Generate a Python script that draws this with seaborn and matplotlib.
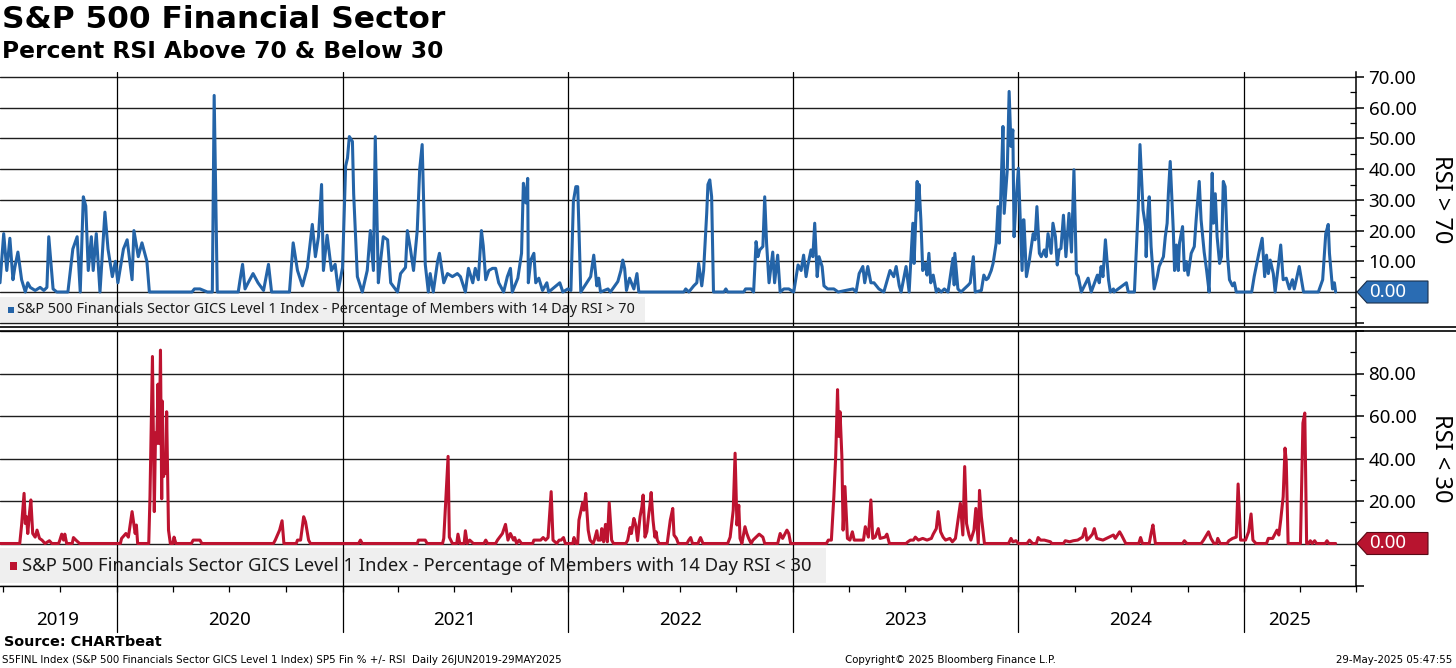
import numpy as np
import pandas as pd
import matplotlib
matplotlib.use("Agg")
import matplotlib.pyplot as plt
import matplotlib.dates as mdates
import matplotlib.transforms as mtransforms
from matplotlib.patches import Polygon, Rectangle
from matplotlib.lines import Line2D
import seaborn as sns

# ---------------- data ----------------
START = "2019-06-26"
END = "2025-05-29"

# % of members with 14-day RSI > 70 (days since 26-Jun-2019, value)
above70_days = [
    0, 6, 11, 16, 21, 24, 29, 35, 41, 45,
    49, 57, 65, 71, 76, 79, 86, 92, 110, 118,
    125, 130, 135, 139, 143, 148, 151, 156, 162, 170,
    175, 182, 187, 191, 200, 206, 214, 217, 224, 230,
    238, 242, 311, 315, 324, 336, 344, 347, 352, 386,
    389, 393, 397, 402, 410, 418, 427, 435, 440, 469,
    475, 482, 490, 498, 506, 511, 516, 521, 524, 530,
    537, 543, 548, 555, 560, 563, 566, 571, 573, 579,
    587, 595, 600, 605, 608, 613, 616, 621, 628, 633,
    644, 649, 657, 660, 665, 670, 676, 680, 684, 689,
    694, 697, 702, 709, 712, 719, 725, 733, 741, 746,
    754, 759, 766, 770, 775, 780, 783, 787, 792, 798,
    803, 808, 816, 822, 827, 830, 839, 845, 848, 852,
    855, 856, 860, 865, 868, 873, 879, 886, 889, 907,
    912, 920, 925, 929, 933, 936, 941, 957, 962, 967,
    970, 973, 985, 989, 1001, 1006, 1009, 1012, 1015, 1020,
    1027, 1032, 1035, 1108, 1111, 1116, 1124, 1129, 1132, 1137,
    1140, 1145, 1147, 1150, 1153, 1156, 1173, 1176, 1179, 1205,
    1208, 1217, 1221, 1225, 1228, 1231, 1236, 1239, 1242, 1246,
    1252, 1255, 1260, 1264, 1270, 1278, 1286, 1293, 1298, 1302,
    1306, 1309, 1314, 1317, 1320, 1324, 1327, 1332, 1335, 1341,
    1351, 1358, 1382, 1387, 1392, 1398, 1401, 1406, 1411, 1416,
    1424, 1432, 1442, 1448, 1452, 1457, 1460, 1468, 1473, 1479,
    1481, 1486, 1487, 1489, 1492, 1495, 1499, 1502, 1505, 1508,
    1512, 1517, 1520, 1525, 1530, 1536, 1544, 1546, 1547, 1552,
    1557, 1569, 1572, 1577, 1580, 1590, 1594, 1598, 1601, 1606,
    1609, 1614, 1617, 1619, 1622, 1625, 1627, 1632, 1635, 1638,
    1641, 1643, 1646, 1650, 1653, 1656, 1658, 1659, 1663, 1667,
    1674, 1677, 1680, 1684, 1687, 1692, 1695, 1698, 1703, 1706,
    1710, 1713, 1716, 1719, 1723, 1727, 1732, 1736, 1740, 1744,
    1747, 1752, 1763, 1768, 1778, 1781, 1784, 1787, 1791, 1796,
    1799, 1804, 1805, 1825, 1828, 1838, 1844, 1847, 1852, 1856,
    1857, 1860, 1862, 1865, 1870, 1875, 1878, 1885, 1888, 1891,
    1893, 1896, 1901, 1903, 1906, 1909, 1911, 1916, 1919, 1922,
    1925, 1930, 1935, 1938, 1943, 1946, 1951, 1955, 1959, 1964,
    1966, 1969, 1972, 1976, 1979, 1982, 1985, 1989, 1992, 1997,
    2000, 2003, 2028, 2032, 2037, 2040, 2045, 2049, 2052, 2055,
    2058, 2063, 2066, 2071, 2075, 2079, 2084, 2089, 2094, 2097,
    2105, 2112, 2136, 2143, 2148, 2152, 2154, 2159, 2162, 2164,
]
above70_values = [
    3, 19, 7, 17.5, 4, 8, 13, 4, 0, 3,
    1.5, 0.5, 1.5, 0.5, 1.5, 18, 1, 0, 0, 14,
    18, 0, 31, 28, 7, 18, 7, 19, 0, 26,
    14, 5, 10, 3, 14, 17, 4, 20, 11.5, 16,
    10, 0, 0, 1, 1, 0, 0, 64, 0, 0,
    4, 9, 1, 3, 6, 3, 0.5, 9, 0, 0,
    16, 7, 2, 8, 22, 11.5, 18, 35, 7, 18.5,
    7, 9, 0.5, 8, 41, 43.6, 50.6, 49, 32, 5,
    0, 7, 20, 7, 50.6, 3, 9, 18, 17, 3,
    0, 6, 8, 20, 14, 7, 20, 40, 48, 9,
    0, 6, 0, 10, 12.6, 3, 6, 5, 6, 5,
    0, 7.7, 3, 7.7, 4, 20, 15, 4, 7, 7.7,
    7.7, 3, 0, 5, 7.7, 0, 4.5, 12.6, 35.4, 29,
    37, 3, 10.4, 12.6, 3, 4.5, 0.5, 3, 0, 3,
    0, 1, 0.5, 29.5, 34.3, 34.3, 0, 5, 12, 2,
    4.5, 0, 1, 0, 3.4, 7, 10.4, 7.7, 0.5, 4.5,
    1, 6, 0, 0, 1, 0, 2, 3, 9.3, 2,
    7, 25.6, 35, 36.5, 31, 0, 0, 1, 0, 0,
    1, 1, 0, 16.4, 11.5, 13.7, 14.8, 31, 15.9, 3,
    13, 3, 12, 0, 1, 1, 0, 8.8, 7, 12,
    5, 8.8, 13.7, 11.5, 22.4, 5, 11.5, 8.3, 2, 1,
    1, 0, 1, 0, 6, 8.3, 3, 8.3, 3, 3,
    1, 0, 7, 5, 8.3, 2, 0, 8.3, 0, 22.4,
    9.3, 36, 26.7, 35, 23.5, 7, 9.3, 5.5, 12.6, 3,
    5.5, 0, 1, 0, 1, 0, 11, 2.3, 12.6, 1,
    0, 2.3, 3, 11.5, 0, 0.5, 5.5, 4, 4.5, 7,
    9.3, 15.9, 27.8, 15.9, 34.3, 53.9, 25.6, 39.8, 65.3, 47.4,
    52.8, 18, 29, 40.3, 23.5, 7, 23.5, 23.5, 5, 9.3,
    19, 17, 27.8, 12.6, 11.5, 13.7, 11.5, 19, 12.6, 22.4,
    18, 8.8, 13.7, 14.2, 25, 11.5, 25.6, 13, 39.8, 6,
    5, 0, 4.5, 0, 5.5, 3, 8.3, 5, 17, 4,
    0, 1, 0, 3, 0, 0, 26.7, 48, 26.7, 21.3,
    11.5, 26.7, 31, 14.8, 1, 5, 8.3, 11.5, 18, 22.4,
    32, 42.5, 20, 7, 15.3, 7, 15.9, 21.3, 7, 9.9,
    5.5, 12.6, 14.8, 23.5, 36, 23.5, 13, 7, 0, 38.7,
    22.4, 32, 18, 9.3, 11.5, 36, 34.3, 11.5, 4, 2,
    3, 0, 0, 5, 9.9, 13, 17.5, 5, 12, 6,
    10.4, 6, 0, 8.3, 15.3, 4, 4.5, 1, 4, 1,
    8.3, 0, 0, 4, 19, 22, 12.6, 1, 3, 0,
]

# % of members with 14-day RSI < 30 (days since 26-Jun-2019, value)
below30_days = [
    0, 32, 35, 39, 41, 43, 45, 48, 50, 53,
    57, 60, 64, 68, 73, 80, 84, 95, 97, 100,
    103, 105, 108, 117, 119, 123, 129, 195, 197, 204,
    208, 214, 216, 219, 221, 223, 241, 243, 247, 250,
    252, 254, 256, 258, 260, 262, 263, 265, 267, 269,
    270, 273, 276, 280, 282, 285, 310, 313, 324, 327,
    443, 446, 453, 457, 460, 480, 482, 487, 492, 495,
    500, 503, 581, 584, 587, 676, 678, 689, 692, 717,
    719, 726, 728, 733, 740, 742, 745, 752, 754, 757,
    761, 767, 784, 787, 790, 803, 806, 814, 819, 823,
    827, 832, 834, 837, 841, 845, 863, 865, 876, 880,
    884, 888, 893, 896, 902, 906, 909, 913, 916, 928,
    930, 933, 936, 938, 944, 946, 949, 953, 956, 961,
    963, 967, 969, 973, 975, 978, 981, 984, 987, 991,
    994, 1014, 1017, 1021, 1023, 1027, 1030, 1033, 1037, 1040,
    1042, 1045, 1048, 1051, 1053, 1055, 1058, 1061, 1063, 1065,
    1068, 1081, 1086, 1090, 1092, 1096, 1099, 1113, 1116, 1119,
    1122, 1131, 1133, 1135, 1139, 1179, 1183, 1188, 1191, 1194,
    1197, 1199, 1202, 1207, 1210, 1213, 1217, 1220, 1230, 1236,
    1239, 1260, 1264, 1268, 1275, 1278, 1281, 1339, 1342, 1347,
    1351, 1354, 1357, 1359, 1361, 1364, 1366, 1369, 1373, 1377,
    1381, 1384, 1399, 1402, 1407, 1411, 1414, 1418, 1423, 1426,
    1434, 1437, 1441, 1468, 1471, 1475, 1480, 1483, 1488, 1495,
    1502, 1509, 1512, 1517, 1520, 1524, 1528, 1532, 1539, 1543,
    1548, 1553, 1556, 1560, 1563, 1566, 1570, 1573, 1578, 1581,
    1585, 1587, 1590, 1595, 1634, 1638, 1641, 1646, 1650, 1664,
    1668, 1673, 1679, 1682, 1686, 1692, 1702, 1704, 1723, 1726,
    1733, 1739, 1746, 1754, 1758, 1761, 1766, 1770, 1773, 1777,
    1787, 1804, 1807, 1814, 1817, 1824, 1845, 1848, 1851, 1862,
    1865, 1868, 1872, 1916, 1919, 1923, 1946, 1950, 1958, 1962,
    1967, 1971, 1973, 1977, 1988, 1991, 1997, 2003, 2006, 2010,
    2018, 2023, 2027, 2030, 2035, 2052, 2055, 2062, 2069, 2072,
    2075, 2079, 2082, 2084, 2087, 2107, 2111, 2114, 2117, 2120,
    2123, 2126, 2130, 2133, 2147, 2150, 2153, 2164,
]
below30_values = [
    0, 0, 8.7, 23.6, 9.4, 12.6, 4.7, 15, 20.5, 4.7,
    3, 6.3, 2.4, 1.6, 0, 1.3, 0, 0, 1.6, 4.4,
    1.6, 4.4, 0, 0, 2.8, 1.6, 0, 0, 2.4, 4.7,
    3, 15, 11, 4.7, 8.7, 0, 0, 22, 88, 15,
    52, 47, 75, 47, 91, 21, 67, 31.5, 37.8, 33,
    62, 6.3, 0, 0, 3, 0, 0, 1.6, 1.6, 0,
    0, 1.6, 6.3, 10.7, 0, 0, 1.6, 1.6, 12.6, 10.2,
    1.6, 0, 0, 1.6, 0, 0, 1.6, 1.6, 0, 0,
    2.4, 41, 3, 0, 0, 4.4, 0, 0, 6, 0,
    1.6, 0, 0, 1.6, 0, 0, 1.6, 4.7, 9, 1.6,
    4.7, 1.6, 2.8, 0, 1.6, 0, 0, 1.6, 1.6, 2.8,
    1.6, 2.8, 24.4, 1.6, 0, 1.6, 1.6, 2.8, 0, 0,
    2.8, 0, 0, 11, 19.2, 15.7, 23.6, 6.3, 1.6, 0,
    1.6, 6, 1.6, 1.6, 7, 0.8, 9, 0.8, 19.2, 1.6,
    0, 0, 1.6, 7.5, 4.7, 11.8, 8.7, 1.3, 12.6, 17.3,
    22.8, 3, 5.5, 13.4, 18, 24, 11, 3, 5.5, 1.6,
    0, 0, 11, 16.5, 4, 2.4, 0, 0, 1.6, 2.8,
    0, 0, 1.6, 2.8, 0, 0, 3, 15.7, 42.5, 8.7,
    18, 2.4, 0, 7.9, 4.7, 2.4, 0, 1.6, 4.4, 3,
    0, 0, 4.7, 2.4, 6.3, 4.7, 0, 0, 1.6, 1.6,
    22, 41, 72.4, 50.4, 62, 41, 6.3, 26.8, 2.4, 1.6,
    5.5, 1.6, 1.6, 7.9, 3, 20.5, 2.4, 3, 7, 2.4,
    3, 4.4, 0, 0, 0.8, 1.6, 1.6, 3, 1.6, 2.4,
    1.6, 2.4, 4.4, 7, 15, 5.5, 3, 1.6, 2.4, 0.8,
    2.4, 12.6, 18.9, 4, 36.2, 9.4, 4, 1.6, 6.3, 16.5,
    0, 25, 12.6, 0, 0, 2.4, 0.8, 1.3, 0, 0,
    1.6, 0, 0, 2.8, 1.6, 1.6, 0.8, 0, 0, 1.3,
    0.8, 1.3, 1.6, 3, 7, 1.6, 3, 4.4, 7, 2.4,
    1.6, 4, 2.4, 5.5, 4, 0, 0, 2.8, 0, 0,
    4.7, 8.7, 0, 0, 1.3, 0, 0, 1.6, 5.5, 2.4,
    0, 0, 2.4, 0, 0, 1.3, 2.4, 3, 28, 1.6,
    1.6, 5.5, 13.9, 1.6, 0, 0, 2.4, 2.4, 6.3, 4,
    11, 22, 44.9, 38.6, 0, 0, 56.7, 61.4, 0, 0,
    1.3, 0, 1.3, 0, 0, 1.3, 0, 0,
]

year_labels = ["2019", "2020", "2021", "2022", "2023", "2024", "2025"]
top_ticks = [-10, 0, 10, 20, 30, 40, 50, 60, 70]
top_labeled = [10, 20, 30, 40, 50, 60, 70]
bottom_ticks = [-20, 0, 20, 40, 60, 80, 100]
bottom_labeled = [20, 40, 60, 80]

title = "S&P 500 Financial Sector"
subtitle = "Percent RSI Above 70 & Below 30"
legend_top = "S&P 500 Financials Sector GICS Level 1 Index - Percentage of Members with 14 Day RSI > 70"
legend_bottom = "S&P 500 Financials Sector GICS Level 1 Index - Percentage of Members with 14 Day RSI < 30"
axis_top = "RSI > 70"
axis_bottom = "RSI < 30"
source = "Source: CHARTbeat"
footer_left = "S5FINL Index (S&P 500 Financials Sector GICS Level 1 Index) SP5 Fin % +/- RSI  Daily 26JUN2019-29MAY2025"
footer_mid = "Copyright\u00a9 2025 Bloomberg Finance L.P."
footer_right = "29-May-2025 05:47:55"

assert len(above70_days) == len(above70_values)
assert len(below30_days) == len(below30_values)

# ---------------- style ----------------
BLUE = "#2464a8"
RED = "#bd1330"
TAG_BLUE = "#2a6cb3"
TAG_RED = "#b8142f"
BOX = "#efefef"

sns.set_theme(style="white")
plt.rcParams["font.family"] = ["Noto Sans", "DejaVu Sans"]

W, H = 1456, 668
fig = plt.figure(figsize=(W / 100, H / 100), dpi=100, facecolor="white")


def fy(py):
    return 1 - py / H


start = pd.Timestamp(START)
end = pd.Timestamp(END)
above_df = pd.DataFrame({"date": start + pd.to_timedelta(above70_days, unit="D"),
                         "value": above70_values})
below_df = pd.DataFrame({"date": start + pd.to_timedelta(below30_days, unit="D"),
                         "value": below30_values})

xmin = start
xmax = start + pd.Timedelta(days=2197)

ax1 = fig.add_axes([0, fy(326), 1356 / W, (326 - 72) / H])
ax2 = fig.add_axes([0, fy(586), 1356 / W, (586 - 331) / H])
for ax in (ax1, ax2):
    ax.set_facecolor("none")

sns.lineplot(data=above_df, x="date", y="value", ax=ax1, color=BLUE,
             linewidth=2.2, estimator=None, legend=False, zorder=4)
sns.lineplot(data=below_df, x="date", y="value", ax=ax2, color=RED,
             linewidth=2.2, estimator=None, legend=False, zorder=4)


def style_axis(ax, ylim, major, labeled, minor):
    ax.set_xlim(xmin, xmax)
    ax.set_ylim(*ylim)
    ax.set_xlabel("")
    ax.set_ylabel("")
    for s in ("left", "top", "bottom"):
        ax.spines[s].set_visible(False)
    ax.spines["right"].set_visible(True)
    ax.spines["right"].set_color("black")
    ax.spines["right"].set_linewidth(1.1)
    ax.yaxis.tick_right()
    ax.set_yticks(major)
    ax.set_yticklabels([f"{v:.2f}" if v in labeled else "" for v in major])
    ax.set_yticks(minor, minor=True)
    ax.tick_params(axis="y", which="major", direction="out", length=6, width=1.1,
                   pad=3, labelsize=13.5, colors="black", right=True, left=False)
    ax.tick_params(axis="y", which="minor", direction="in", length=4, width=0.9,
                   right=True, left=False, colors="black")
    ax.grid(axis="y", which="major", color="#1e1e1e", linewidth=1.0, zorder=1)
    ax.grid(axis="x", visible=False)
    ax.set_axisbelow(True)


style_axis(ax1, (-11.07, 71.63), top_ticks, top_labeled,
           [v for v in range(-5, 70, 10)])
style_axis(ax2, (-20, 100), bottom_ticks, bottom_labeled,
           [v for v in range(-10, 100, 20)])

ax1.tick_params(axis="x", bottom=False, labelbottom=False)
ax2.spines["bottom"].set_visible(True)
ax2.spines["bottom"].set_color("black")
ax2.spines["bottom"].set_linewidth(1.0)
ax2.xaxis.set_major_locator(mdates.MonthLocator(bymonth=[1, 4, 7, 10]))
ax2.tick_params(axis="x", which="major", direction="out", length=4, width=0.9,
                bottom=True, labelbottom=False, colors="black")

# year separators
ext = (632 - 586) / (586 - 331)
for yl in year_labels[1:]:
    d = pd.Timestamp(f"{yl}-01-01")
    ax1.axvline(d, color="black", linewidth=0.9, zorder=2)
    ax2.axvline(d, ymin=-ext, ymax=1, color="black", linewidth=0.9, zorder=2,
                clip_on=False)

# year labels centred on the visible part of each year
blend = mtransforms.blended_transform_factory(ax2.transData, ax2.transAxes)
ylab = -(620 - 586) / (586 - 331)
for yl in year_labels:
    a = max(pd.Timestamp(f"{yl}-01-01"), start)
    b = min(pd.Timestamp(f"{yl}-12-31"), end)
    mid = a + (b - a) / 2
    ax2.text(mid, ylab, yl, transform=blend, ha="center", va="center",
             fontsize=13.5, color="black")

# legend boxes (behind the plot content)
fig.add_artist(Rectangle((0, fy(322)), 645 / W, 25 / H, transform=fig.transFigure,
                         facecolor=BOX, edgecolor="none", zorder=-1))
fig.add_artist(Rectangle((0, fy(583)), 826 / W, 35 / H, transform=fig.transFigure,
                         facecolor=BOX, edgecolor="none", zorder=-1))
fig.add_artist(Rectangle((8 / W, fy(313)), 6 / W, 6 / H, transform=fig.transFigure,
                         facecolor=BLUE, edgecolor="none", zorder=6))
fig.add_artist(Rectangle((10 / W, fy(570)), 7 / W, 8 / H, transform=fig.transFigure,
                         facecolor=RED, edgecolor="none", zorder=6))
fig.text(17 / W, fy(310), legend_top, fontsize=10.4, color="#1a1a1a",
         ha="left", va="center", zorder=6)
fig.text(22 / W, fy(566), legend_bottom, fontsize=13.3, color="#1a1a1a",
         ha="left", va="center", zorder=6)

# panel separator (double line)
for yy in (326.5, 330.5):
    fig.add_artist(Line2D([0, 1], [fy(yy), fy(yy)], transform=fig.transFigure,
                          color="black", linewidth=1.2, zorder=6))

# right-side axis titles
fig.text(1441 / W, fy(199), axis_top, rotation=270, ha="center", va="center",
         fontsize=17, color="black")
fig.text(1441 / W, fy(458), axis_bottom, rotation=270, ha="center", va="center",
         fontsize=17, color="black")

# last-value tags
ident = mtransforms.IdentityTransform()


def value_tag(ax, df, fill):
    last = df["value"].iloc[-1]
    xa = ax.transAxes.transform((1, 0))[0]
    y0 = ax.transData.transform((mdates.date2num(df["date"].iloc[-1]), last))[1]
    h = 11
    verts = [(xa + 1, y0), (xa + 11, y0 + h), (xa + 72, y0 + h),
             (xa + 72, y0 - h), (xa + 11, y0 - h)]
    fig.add_artist(Polygon(verts, closed=True, transform=ident, facecolor=fill,
                           edgecolor="#1b2f4a" if fill == TAG_BLUE else "#5a0a16",
                           linewidth=0.8, zorder=7))
    fig.text(xa + 13, y0, f"{last:.2f}", transform=ident, ha="left", va="center",
             fontsize=13.5, color="white", zorder=8)


value_tag(ax1, above_df, TAG_BLUE)
value_tag(ax2, below_df, TAG_RED)

# titles
fig.text(2 / W, fy(20), title, fontsize=22.5, fontweight="bold",
         family="DejaVu Sans", ha="left", va="center", color="black")
fig.text(2 / W, fy(52), subtitle, fontsize=16.8, fontweight="bold",
         family="DejaVu Sans", ha="left", va="center", color="black")

# footer
fig.text(4 / W, fy(642), source, fontsize=10.4, fontweight="bold",
         family="DejaVu Sans", ha="left", va="center", color="black")
fig.text(2 / W, fy(660), footer_left, fontsize=7.35, family="DejaVu Sans",
         ha="left", va="center", color="black")
fig.text(950 / W, fy(660), footer_mid, fontsize=7.35, family="DejaVu Sans",
         ha="center", va="center", color="black")
fig.text(1452 / W, fy(660), footer_right, fontsize=7.35, family="DejaVu Sans",
         ha="right", va="center", color="black")

fig.savefig("out.png", dpi=100, facecolor="white")
